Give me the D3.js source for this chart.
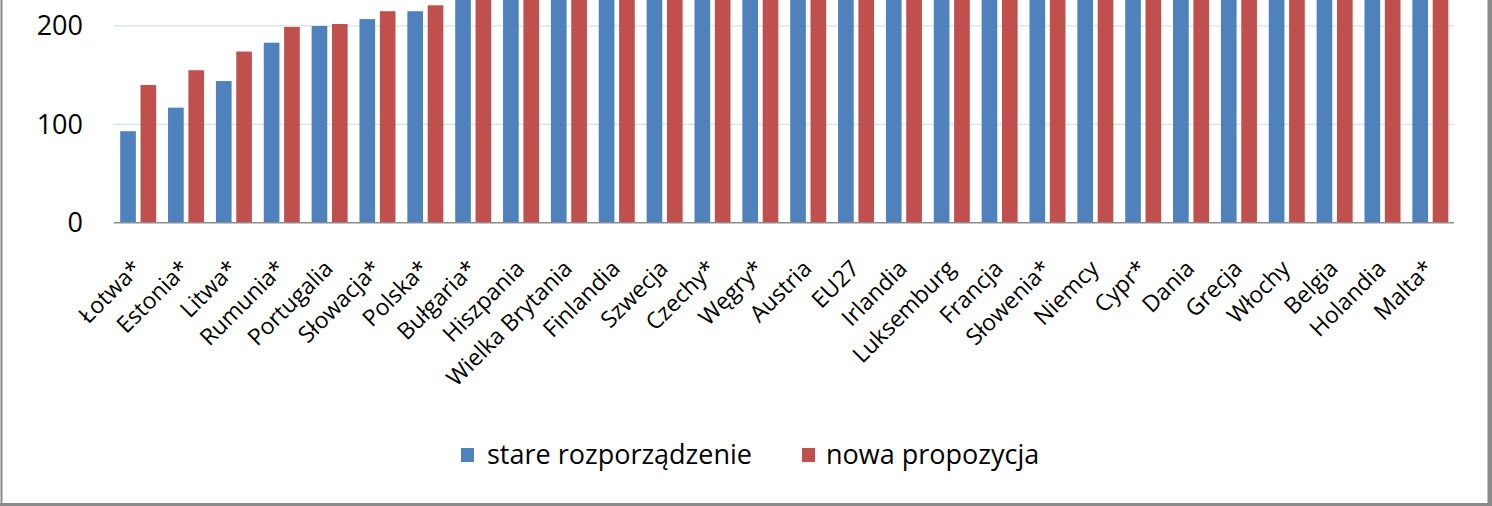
<!DOCTYPE html>
<html>
<head>
<meta charset="utf-8">
<script src="https://cdn.jsdelivr.net/npm/d3@7"></script>
<style>
  html, body { margin: 0; padding: 0; background: #fff; }
  svg { display: block; }
  text { font-family: "Open Sans", "Noto Sans", sans-serif; fill: #000; }
</style>
</head>
<body>
<svg id="chart" width="1492" height="506"></svg>
<script>
const categories = ["Łotwa*", "Estonia*", "Litwa*", "Rumunia*", "Portugalia", "Słowacja*", "Polska*", "Bułgaria*",
  "Hiszpania", "Wielka Brytania", "Finlandia", "Szwecja", "Czechy*", "Węgry*", "Austria", "EU27", "Irlandia",
  "Luksemburg", "Francja", "Słowenia*", "Niemcy", "Cypr*", "Dania", "Grecja", "Włochy", "Belgia", "Holandia", "Malta*"];
const seriesNames = ["stare rozporządzenie", "nowa propozycja"];
const stare = [93, 117, 144, 183, 200, 207, 215, 236, 245, 250, 254, 258, 262, 267, 268, 269, 327, 332, 333, 337, 341, 372, 389, 393, 405, 446, 456, 692];
const nowa  = [140, 155, 174, 199, 202, 215, 221, 241, 248, 253, 254, 258, 261, 266, 265, 269, 317, 321, 321, 325, 327, 358, 374, 377, 388, 425, 435, 629];
const yTicks = [0, 100, 200];
const colors = ["#4f81bd", "#c0504d"];

const svg = d3.select("#chart");
const plotLeft = 114, plotRight = 1454, plotBottom = 222.7;

const x = d3.scaleBand().domain(categories).range([plotLeft, plotRight]).paddingInner(0).paddingOuter(0);
const x1 = d3.scaleBand().domain(seriesNames).range([6.2, 42.2]).paddingInner(0.23).paddingOuter(0);
const y = d3.scaleLinear().domain([0, 226.4]).range([plotBottom, 0]);

// gridlines
svg.append("g").selectAll("line").data(yTicks.filter(d => d > 0)).join("line")
  .attr("x1", plotLeft).attr("x2", plotRight)
  .attr("y1", d => y(d)).attr("y2", d => y(d))
  .attr("stroke", "#d3e1f3").attr("stroke-width", 1.3);

// bars
const rows = categories.map((c, i) => ({ c, vals: [stare[i], nowa[i]] }));
const groups = svg.append("g").selectAll("g").data(rows).join("g")
  .attr("transform", d => `translate(${x(d.c)},0)`);
groups.selectAll("rect").data(d => d.vals.map((v, k) => ({ k, v }))).join("rect")
  .attr("x", d => x1(seriesNames[d.k]))
  .attr("width", x1.bandwidth())
  .attr("y", d => y(d.v))
  .attr("height", d => y(0) - y(d.v))
  .attr("fill", d => colors[d.k]);

// x axis line
svg.append("line").attr("x1", plotLeft).attr("x2", plotRight)
  .attr("y1", plotBottom).attr("y2", plotBottom)
  .attr("stroke", "#8c8c8c").attr("stroke-width", 1.6);

// y tick labels
svg.append("g").selectAll("text").data(yTicks).join("text")
  .attr("x", 83).attr("y", d => y(d)).attr("dy", "0.35em")
  .attr("text-anchor", "end").attr("font-size", 27).text(d => d);

// category labels
svg.append("g").selectAll("text").data(categories).join("text")
  .attr("transform", d => `translate(${x(d) + x.bandwidth() / 2 + 5},270) rotate(-45)`)
  .attr("text-anchor", "end").attr("font-size", 23).text(d => d);

// legend
const legend = [{ name: seriesNames[0], sx: 461, tx: 487 }, { name: seriesNames[1], sx: 802, tx: 826 }];
const lg = svg.append("g");
legend.forEach((l, k) => {
  lg.append("rect").attr("x", l.sx).attr("y", 448).attr("width", 13).attr("height", 14).attr("fill", colors[k]);
  lg.append("text").attr("x", l.tx).attr("y", 464).attr("font-size", 27).text(l.name);
});

// frame
const frame = svg.append("g").attr("fill", "#8a8a8a");
frame.append("rect").attr("x", 0.5).attr("y", 0).attr("width", 2).attr("height", 506);
frame.append("rect").attr("x", 1487.5).attr("y", 0).attr("width", 4.5).attr("height", 506);
frame.append("rect").attr("x", 0).attr("y", 503).attr("width", 1492).attr("height", 3);
</script>
</body>
</html>
